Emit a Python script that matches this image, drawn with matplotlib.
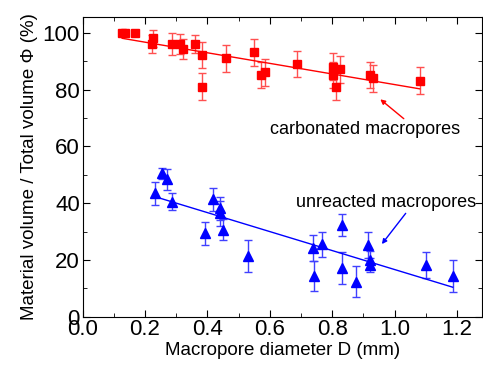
import numpy as np
import matplotlib
matplotlib.use("Agg")
import matplotlib.pyplot as plt
from matplotlib.ticker import MultipleLocator

plt.rcParams['font.family'] = ['Liberation Sans', 'DejaVu Sans']

# carbonated macropores (red squares)
red_x = [0.125, 0.137, 0.168, 0.221, 0.225, 0.286, 0.312, 0.321, 0.360, 0.382, 0.382,
         0.460, 0.550, 0.571, 0.585, 0.687, 0.801, 0.801, 0.812, 0.826, 0.920, 0.930, 1.082]
red_y = [100.0, 100.0, 100.0, 96.1, 98.1, 96.1, 96.1, 94.2, 96.1, 92.2, 81.1,
         91.1, 93.2, 85.2, 86.1, 89.1, 88.1, 85.2, 81.1, 87.2, 85.2, 84.0, 83.2]
red_err = [0, 0, 0, 3.3, 3.0, 3.8, 3.5, 3.5, 3.3, 4.7, 4.7,
           4.7, 4.7, 4.7, 4.7, 4.7, 4.7, 4.7, 4.7, 4.7, 4.7, 4.7, 4.7]
red_fit_x = [0.127, 1.08]
red_fit_y = [98.1, 80.3]

# unreacted macropores (blue triangles)
blue_x = [0.232, 0.255, 0.269, 0.286, 0.393, 0.417, 0.441, 0.441, 0.451, 0.530,
          0.738, 0.740, 0.767, 0.831, 0.831, 0.876, 0.916, 0.920, 0.922, 1.100, 1.186]
blue_y = [43.5, 50.5, 48.4, 40.5, 29.4, 41.4, 38.2, 36.4, 30.6, 21.4,
          24.1, 14.3, 25.5, 32.3, 17.1, 12.3, 25.3, 20.0, 18.2, 18.2, 14.3]
blue_err = [4.0, 2.0, 3.7, 3.0, 4.0, 4.0, 4.0, 4.4, 3.7, 5.5,
            4.6, 5.3, 4.5, 3.8, 5.7, 5.5, 4.6, 3.0, 2.5, 4.6, 5.7]
blue_fit_x = [0.232, 1.186]
blue_fit_y = [42.3, 10.4]

fig = plt.figure(figsize=(4.83, 3.70), dpi=100)
ax = fig.add_axes([0.171, 0.144, 0.827, 0.810])

ax.errorbar(red_x, red_y, yerr=red_err, fmt='s', color='red', ms=6,
            ecolor='#ff5050', elinewidth=1, capsize=3, capthick=1)
ax.plot(red_fit_x, red_fit_y, color='red', lw=1)
ax.errorbar(blue_x, blue_y, yerr=blue_err, fmt='^', color='blue', ms=7.5,
            ecolor='#4040ff', elinewidth=1, capsize=3, capthick=1)
ax.plot(blue_fit_x, blue_fit_y, color='blue', lw=1)

ax.annotate('carbonated macropores', xy=(0.954, 76.6), xytext=(0.906, 65.8),
            ha='center', va='center', fontsize=13,
            arrowprops=dict(arrowstyle='-|>', color='red', lw=1,
                            shrinkA=0, shrinkB=0, mutation_scale=7,
                            relpos=(0.72, 1.0)))
ax.annotate('unreacted macropores', xy=(0.959, 25.6), xytext=(0.973, 40.4),
            ha='center', va='center', fontsize=13,
            arrowprops=dict(arrowstyle='-|>', color='blue', lw=1,
                            shrinkA=0, shrinkB=0, mutation_scale=7,
                            relpos=(0.62, 0.0)))

ax.set_xlim(0, 1.28)
ax.set_ylim(0, 105.6)
ax.xaxis.set_major_locator(MultipleLocator(0.2))
ax.xaxis.set_minor_locator(MultipleLocator(0.1))
ax.yaxis.set_major_locator(MultipleLocator(20))
ax.yaxis.set_minor_locator(MultipleLocator(10))
ax.tick_params(which='both', direction='in', top=True, right=True, labelsize=16, pad=2)
ax.tick_params(which='major', length=5)
ax.tick_params(which='minor', length=3)
ax.xaxis.set_major_formatter(plt.FuncFormatter(lambda v, p: '%.1f' % v))

ax.set_xlabel('Macropore diameter D (mm)', fontsize=13.5, labelpad=1)
ax.set_ylabel('Material volume / Total volume \u03a6 (%)', fontsize=13.5, labelpad=3)

fig.savefig('out.png', dpi=100)
